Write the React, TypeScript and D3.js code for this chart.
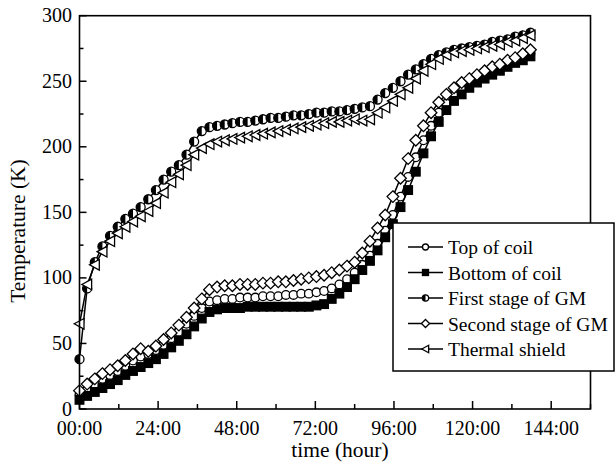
import React, { useRef, useEffect } from "react"
import * as d3 from "d3"

// sample times (hours), one reading every ~2h20m
const hours = [
  0, 2.33, 4.67, 7, 9.33, 11.67, 14, 16.33, 18.67, 21, 23.33, 25.67, 28, 30.33,
  32.67, 35, 37.33, 39.67, 42, 44.33, 46.67, 49, 51.33, 53.67, 56, 58.33, 60.67,
  63, 65.33, 67.67, 70, 72.33, 74.67, 77, 79.33, 81.67, 84, 86.33, 88.67, 91,
  93.33, 95.67, 98, 100.33, 102.67, 105, 107.33, 109.67, 112, 114.33, 116.67,
  119, 121.33, 123.67, 126, 128.33, 130.67, 133, 135.33, 137.67,
]

const topCoil = [
  11, 15, 19, 23, 26, 29, 33, 37, 40, 42, 45, 49, 54, 59, 65, 71, 77, 82, 83, 84,
  84, 85, 85, 85, 86, 86, 86, 87, 87, 88, 88, 89, 90, 92, 95, 99, 104, 110, 117,
  126, 136, 148, 162, 177, 192, 205, 216, 226, 233, 239, 244, 248, 252, 255, 258,
  261, 263, 266, 269, 271,
]
const bottomCoil = [
  7, 10, 13, 16, 19, 22, 26, 29, 32, 35, 38, 42, 47, 52, 57, 63, 69, 74, 76, 77,
  77, 77, 78, 78, 78, 78, 78, 78, 78, 78, 78, 79, 80, 84, 88, 93, 99, 106, 113,
  121, 131, 141, 154, 167, 181, 195, 208, 219, 228, 235, 240, 245, 249, 252, 255,
  258, 261, 264, 266, 269,
]
const firstStage = [
  38, 92, 112, 124, 132, 139, 145, 149, 154, 160, 167, 175, 181, 186, 194, 204,
  212, 215, 216, 217, 218, 219, 219, 220, 221, 222, 222, 223, 224, 224, 225, 226,
  226, 227, 227, 228, 229, 230, 231, 236, 241, 245, 250, 255, 259, 263, 267, 270,
  272, 274, 275, 276, 277, 278, 280, 281, 282, 284, 285, 287,
]
const secondStage = [
  14, 19, 23, 27, 30, 33, 37, 42, 46, 44, 48, 53, 58, 64, 70, 77, 84, 91, 93, 94,
  94, 95, 95, 95, 96, 96, 97, 97, 98, 99, 100, 101, 102, 104, 106, 109, 112, 119,
  128, 138, 148, 162, 176, 191, 205, 216, 226, 234, 240, 245, 249, 252, 255, 258,
  261, 263, 266, 268, 271, 274,
]
const thermalShield = [
  65, 95, 110, 120, 128, 134, 139, 143, 147, 151, 157, 165, 173, 179, 186, 194,
  199, 202, 204, 205, 206, 207, 208, 209, 210, 211, 212, 213, 214, 215, 216, 217,
  218, 219, 219, 220, 221, 220, 221, 226, 230, 235, 240, 245, 252, 258, 263, 267,
  270, 272, 273, 274, 275, 276, 277, 278, 280, 281, 283, 285,
]

const seriesNames = [
  "Top of coil",
  "Bottom of coil",
  "First stage of GM",
  "Second stage of GM",
  "Thermal shield",
]
const seriesValues = [topCoil, bottomCoil, firstStage, secondStage, thermalShield]
const markerKinds = ["circle", "square", "halfCircle", "diamond", "triangle"]

const xTicks = [0, 24, 48, 72, 96, 120, 144]
const xTickLabels = ["00:00", "24:00", "48:00", "72:00", "96:00", "120:00", "144:00"]
const yTicks = [0, 50, 100, 150, 200, 250, 300]

const W = 616
const H = 464
const margin = { top: 15.7, right: 25.5, bottom: 55, left: 79.5 }
const FONT = "Liberation Serif, Times New Roman, Times, serif"

function drawMarker(g: any, kind: string, x: number, y: number, s = 1) {
  const sw = 1.3
  if (kind === "circle") {
    g.append("circle").attr("cx", x).attr("cy", y).attr("r", 4.3 * s)
      .attr("fill", "#fff").attr("stroke", "#000").attr("stroke-width", sw)
  } else if (kind === "square") {
    const h = 4.3 * s
    g.append("rect").attr("x", x - h).attr("y", y - h).attr("width", 2 * h).attr("height", 2 * h)
      .attr("fill", "#000").attr("stroke", "#000").attr("stroke-width", sw)
  } else if (kind === "halfCircle") {
    const r = 4.5 * s
    g.append("circle").attr("cx", x).attr("cy", y).attr("r", r)
      .attr("fill", "#fff").attr("stroke", "#000").attr("stroke-width", sw)
    g.append("path")
      .attr("d", `M${x},${y - r}A${r},${r} 0 0 0 ${x},${y + r}Z`)
      .attr("fill", "#000")
  } else if (kind === "diamond") {
    const r = 5.8 * s
    g.append("path")
      .attr("d", `M${x},${y - r}L${x + r},${y}L${x},${y + r}L${x - r},${y}Z`)
      .attr("fill", "#fff").attr("stroke", "#000").attr("stroke-width", sw)
  } else {
    const r = 5.3 * s
    g.append("path")
      .attr("d", `M${x - r},${y}L${x + r * 0.85},${y - r}L${x + r * 0.85},${y + r}Z`)
      .attr("fill", "#fff").attr("stroke", "#000").attr("stroke-width", sw)
  }
}

function TempChart() {
  const ref = useRef<SVGSVGElement>(null)

  useEffect(() => {
    const svg = d3.select(ref.current)
    svg.selectAll("*").remove()

    const x = d3.scaleLinear().domain([0, 156]).range([margin.left, W - margin.right])
    const y = d3.scaleLinear().domain([0, 300]).range([H - margin.bottom, margin.top])

    // series: line then markers
    const line = d3.line<number>()
      .x((d, i) => x(hours[i]))
      .y(d => y(d))

    seriesValues.forEach((vals, si) => {
      const g = svg.append("g")
      g.append("path")
        .datum(vals)
        .attr("d", line)
        .attr("fill", "none")
        .attr("stroke", "#000")
        .attr("stroke-width", 1.5)
      vals.forEach((v, i) => drawMarker(g, markerKinds[si], x(hours[i]), y(v)))
    })

    // frame
    svg.append("rect")
      .attr("x", margin.left).attr("y", margin.top)
      .attr("width", W - margin.right - margin.left)
      .attr("height", H - margin.bottom - margin.top)
      .attr("fill", "none").attr("stroke", "#000").attr("stroke-width", 1.6)

    const y0 = H - margin.bottom
    // x ticks (inward)
    d3.range(0, 157, 12).forEach(t => {
      const major = t % 24 === 0
      svg.append("line")
        .attr("x1", x(t)).attr("x2", x(t))
        .attr("y1", y0).attr("y2", y0 - (major ? 8 : 5))
        .attr("stroke", "#000").attr("stroke-width", 1.5)
    })
    xTicks.forEach((t, i) => {
      svg.append("text")
        .attr("x", x(t)).attr("y", 435)
        .attr("text-anchor", "middle")
        .attr("font-family", FONT).attr("font-size", 20)
        .text(xTickLabels[i])
    })
    // y ticks (inward)
    d3.range(0, 301, 25).forEach(v => {
      const major = v % 50 === 0
      svg.append("line")
        .attr("x1", margin.left).attr("x2", margin.left + (major ? 7 : 4))
        .attr("y1", y(v)).attr("y2", y(v))
        .attr("stroke", "#000").attr("stroke-width", 1.5)
    })
    yTicks.forEach(v => {
      svg.append("text")
        .attr("x", 72).attr("y", y(v) + 6.5)
        .attr("text-anchor", "end")
        .attr("font-family", FONT).attr("font-size", 20)
        .text(v)
    })

    svg.append("text")
      .attr("x", (margin.left + W - margin.right) / 2 + 5).attr("y", 457)
      .attr("text-anchor", "middle")
      .attr("font-family", FONT).attr("font-size", 21.5)
      .text("time (hour)")
    svg.append("text")
      .attr("transform", `translate(25, 231) rotate(-90)`)
      .attr("text-anchor", "middle")
      .attr("font-family", FONT).attr("font-size", 21.5)
      .text("Temperature (K)")

    // legend
    const lg = svg.append("g")
    lg.append("rect")
      .attr("x", 393).attr("y", 223).attr("width", 221).attr("height", 148)
      .attr("fill", "#fff").attr("stroke", "#000").attr("stroke-width", 1.5)
    seriesNames.forEach((name, i) => {
      const ly = 247 + i * 25.5
      lg.append("line")
        .attr("x1", 408).attr("x2", 443).attr("y1", ly).attr("y2", ly)
        .attr("stroke", "#000").attr("stroke-width", 1.5)
      drawMarker(lg, markerKinds[i], 425.5, ly, 0.7)
      lg.append("text")
        .attr("x", 448).attr("y", ly + 7)
        .attr("font-family", FONT).attr("font-size", 19.5)
        .text(name)
    })
  }, [])

  return (
    <svg
      ref={ref}
      width={W}
      height={H}
      style={{ position: "absolute", left: 0, top: 0, background: "#fff" }}
    />
  )
}

export default function App() {
  return <TempChart />
}
